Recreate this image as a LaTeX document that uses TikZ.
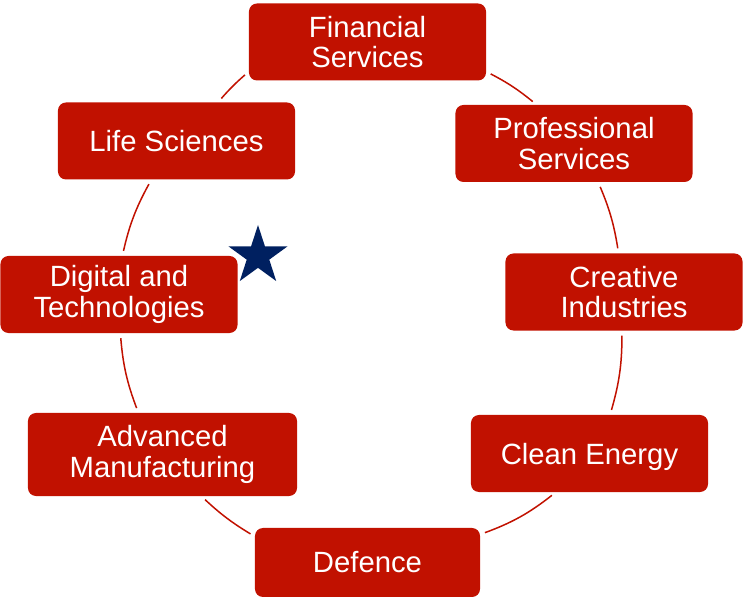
\documentclass[tikz,border=0pt]{standalone}
\usepackage{fontspec}
\setmainfont{Liberation Sans}
\usepackage{tikz}
\usetikzlibrary{calc,shapes}

\definecolor{sred}{RGB}{193,17,0}
\definecolor{snavy}{RGB}{0,32,96}

\begin{document}
\begin{tikzpicture}[x=0.03cm,y=-0.03cm]
	\tikzstyle{sector} = [fill=sred, rounded corners=0.24cm, text=white, align=center, minimum width=7.11cm, minimum height=2.31cm, inner sep=0pt, font=\fontsize{25}{25.8}\selectfont]
	\tikzstyle{link} = [draw=sred, line width=0.045cm, shorten >=0.15cm, shorten <=0.15cm]
	
	\useasboundingbox (0,0) rectangle (744,597);
	
	\node [sector] (fin) at (367.5,42) {Financial\\Services};
	
	\node [sector] (pro) at (574,143.5) {Professional\\Services};
	
	\node [sector] (cre) at (624,292) {Creative\\Industries};
	
	\node [sector, text depth=0pt] (cle) at (589.5,453.5) {Clean Energy};
	
	\node [sector, minimum width=6.75cm, minimum height=2.07cm] (def) at (367.5,562.5) {Defence};
	
	\node [sector, minimum width=8.07cm, minimum height=2.49cm] (adv) at (162.5,454.5) {Advanced\\Manufacturing};
	
	\node [sector] (dig) at (119,294.5) {Digital and\\Technologies};
	
	\node [sector] (lif) at (176.5,141) {Life Sciences};
	
	\node [star, star points=5, star point ratio=2.618, fill=snavy, minimum size=1.86cm, inner sep=0pt] (star) at (258,256) {};
	
	\draw [link] (fin.-14) to[bend left=6] (pro.134);
	
	\draw [link] (pro.-58) to[bend left=7] (cre.98);
	
	\draw [link] (cre.-93) to[bend left=8] (cle.62);
	
	\draw [link] (cle.-131) to[bend left=9] (def.14);
	
	\draw [link] (def.167) to[bend left=6] (adv.-47);
	
	\draw [link] (adv.120) to[bend left=8] (dig.-88);
	
	\draw [link] (dig.85) to[bend left=8] (lif.-123);
	
	\draw [link] (lif.43) to[bend left=4] (fin.-166);
	
\end{tikzpicture}
\end{document}
